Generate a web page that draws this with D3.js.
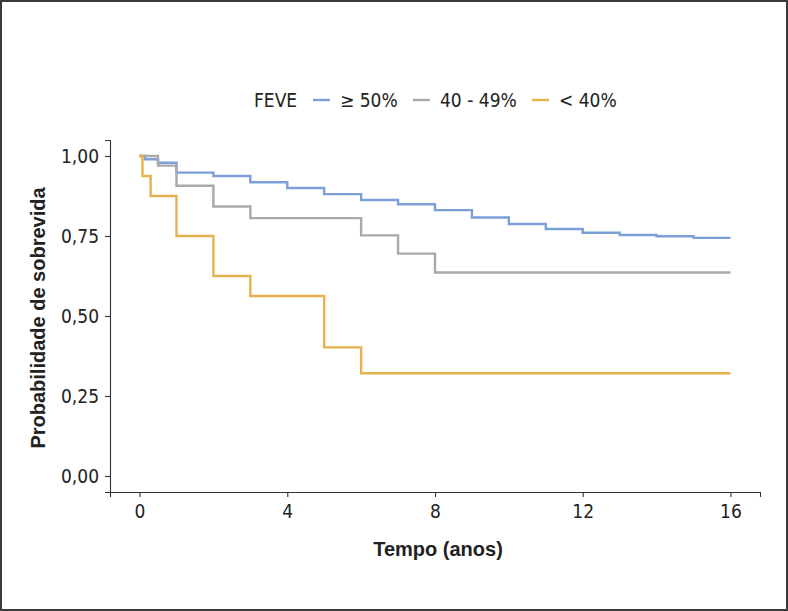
<!DOCTYPE html>
<html>
<head>
<meta charset="utf-8">
<script src="https://cdn.jsdelivr.net/npm/d3@7"></script>
<style>
  body { margin: 0; background: #fff; }
  #frame { width: 784px; height: 607px; border: 2px solid #3a3a3a; position: relative; }
  text { fill: #222; }
</style>
</head>
<body>
<div id="frame"></div>
<script>
/* CONSTANTS AND GLOBALS */
const width = 784;
const height = 607;
const narrow = "'DejaVu Sans Condensed', 'Liberation Sans Narrow', sans-serif";
const boldFont = "'Liberation Sans', Arial, sans-serif";

/* DATA */
const groups = ["\u2265 50%", "40 - 49%", "< 40%"];
const colors = ["#7b9fd6", "#a9a9a9", "#e5b24f"];

const timesHigh = [0, 0.15, 0.5, 1, 2, 3, 4, 5, 6, 7, 8, 9, 10, 11, 12, 13, 14, 15, 16];
const survHigh  = [1.0, 0.99, 0.979, 0.948, 0.9375, 0.918, 0.900, 0.881, 0.8625, 0.849, 0.831, 0.808, 0.7875, 0.772, 0.760, 0.753, 0.749, 0.744, 0.744];

const timesMid = [0, 0.5, 1, 2, 3, 6, 7, 8, 16];
const survMid  = [1.0, 0.970, 0.907, 0.842, 0.806, 0.752, 0.695, 0.636, 0.636];

const timesLow = [0, 0.08, 0.3, 1, 2, 3, 5, 6, 16];
const survLow  = [1.0, 0.9375, 0.875, 0.75, 0.625, 0.5625, 0.402, 0.321, 0.321];

const xTicks = [0, 4, 8, 12, 16];
const yTicks = [0, 0.25, 0.5, 0.75, 1];

const series = [
  { name: groups[0], t: timesHigh, s: survHigh },
  { name: groups[1], t: timesMid, s: survMid },
  { name: groups[2], t: timesLow, s: survLow }
];

/* SCALES */
const xScale = d3.scaleLinear()
  .domain([-0.8, 16.8])
  .range([108, 758]);

const yScale = d3.scaleLinear()
  .domain([-0.05, 1.05])
  .range([490, 138]);

const color = d3.scaleOrdinal().domain(groups).range(colors);

/* SVG */
const svg = d3.select("#frame")
  .append("svg")
  .attr("width", width)
  .attr("height", height);

// curves
const line = d3.line()
  .x(d => xScale(d[0]))
  .y(d => yScale(d[1]))
  .curve(d3.curveStepAfter);

svg.selectAll("path.km")
  .data(series)
  .join("path")
  .attr("class", "km")
  .attr("d", d => line(d.t.map((t, i) => [t, d.s[i]])))
  .attr("fill", "none")
  .attr("stroke", d => color(d.name))
  .attr("stroke-width", 2.4);

// axes
const xAxis = svg.append("g")
  .attr("transform", `translate(0,${yScale.range()[0]})`)
  .call(d3.axisBottom(xScale).tickValues(xTicks).tickSize(5).tickPadding(8).tickFormat(d3.format("d")));

const yAxis = svg.append("g")
  .attr("transform", `translate(${xScale.range()[0]},0)`)
  .call(d3.axisLeft(yScale).tickValues(yTicks).tickSize(5).tickPadding(6)
    .tickFormat(d => d3.format(".2f")(d).replace(".", ",")));

[xAxis, yAxis].forEach(ax => {
  ax.select(".domain").attr("stroke", "#333").attr("stroke-width", 1.1);
  ax.selectAll(".tick line").attr("stroke", "#333").attr("stroke-width", 1.1);
  ax.selectAll(".tick text")
    .style("font-family", narrow)
    .style("font-size", "19px")
    .attr("fill", "#222");
});

// axis titles
svg.append("text")
  .attr("x", 436)
  .attr("y", 554)
  .attr("text-anchor", "middle")
  .style("font-family", boldFont)
  .style("font-weight", "bold")
  .style("font-size", "20px")
  .text("Tempo (anos)");

svg.append("text")
  .attr("transform", "translate(43,316) rotate(-90)")
  .attr("text-anchor", "middle")
  .style("font-family", boldFont)
  .style("font-weight", "bold")
  .style("font-size", "20px")
  .text("Probabilidade de sobrevida");

// legend
const legend = svg.append("g").attr("transform", "translate(0,98)");

legend.append("text")
  .attr("x", 252)
  .attr("y", 7)
  .style("font-family", narrow)
  .style("font-size", "19px")
  .text("FEVE");

const legendX = [311, 411, 530];
const items = legend.selectAll("g.item")
  .data(groups)
  .join("g")
  .attr("class", "item")
  .attr("transform", (d, i) => `translate(${legendX[i]},0)`);

items.append("line")
  .attr("x1", 0).attr("x2", 17)
  .attr("y1", 0).attr("y2", 0)
  .attr("stroke", d => color(d))
  .attr("stroke-width", 2.4);

items.append("text")
  .attr("x", 27)
  .attr("y", 7)
  .style("font-family", narrow)
  .style("font-size", "19px")
  .text(d => d);
</script>
</body>
</html>
